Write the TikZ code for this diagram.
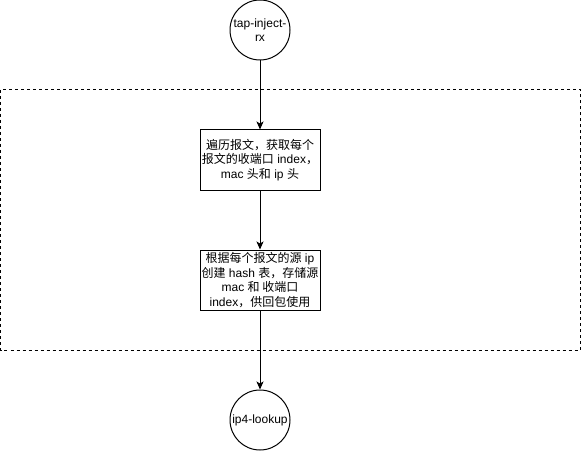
\documentclass[tikz,border=0pt]{standalone}
\usepackage{fontspec}
\setmainfont{Liberation Sans}
\newfontfamily\cjk{Noto Sans CJK SC}
\usetikzlibrary{arrows.meta}
\begin{document}
\begin{tikzpicture}[x=1pt,y=-1pt,
  every node/.style={font=\fontsize{12pt}{14.5pt}\selectfont, text=black},
  stepbox/.style={draw=black, line width=1pt, minimum width=120pt, minimum height=60pt, align=center, inner sep=1pt},
  term/.style={draw=black, line width=1pt, circle, minimum size=60pt, align=center, inner sep=0pt},
  flow/.style={draw=black, line width=1pt, -{Stealth[length=8pt,width=7pt,inset=2pt]}},
  group/.style={draw=black, line width=1pt, dashed, dash pattern=on 3pt off 3pt}]
\useasboundingbox (0,0) rectangle (582,452);
\draw[group] (0.5,90) rectangle (580,350);
\node[term] (tap) at (260,30) {tap-inject-\\rx};
\node[stepbox] (s1) at (260,160) {{\cjk 遍历报文，获取每个}\\{\cjk 报文的收端口} index{\cjk ，}\\mac {\cjk 头和} ip {\cjk 头}};
\node[stepbox] (s2) at (260,280) {{\cjk 根据每个报文的源} ip\\{\cjk 创建} hash {\cjk 表，存储源}\\mac {\cjk 和 收端口}\\index{\cjk ，供回包使用}};
\node[term] (ip4) at (260,420) {ip4-lookup};
\draw[flow] (tap) -- (s1);
\draw[flow] (s1) -- (s2);
\draw[flow] (s2) -- (ip4);
\end{tikzpicture}
\end{document}
